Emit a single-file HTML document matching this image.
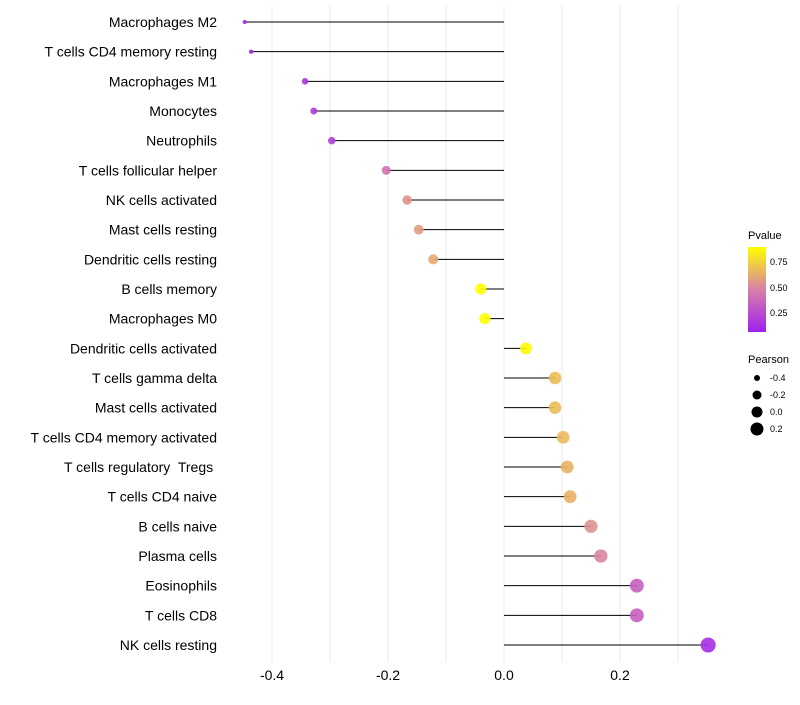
<!DOCTYPE html>
<html><head><meta charset="utf-8"><style>
body{margin:0;background:#fff;font-family:"Liberation Sans",sans-serif}
</style></head><body>
<svg id="chart" width="800" height="700" xmlns="http://www.w3.org/2000/svg">
<defs><linearGradient id="pg" x1="0" y1="1" x2="0" y2="0">
<stop offset="0" stop-color="#a020f0"/><stop offset="0.5" stop-color="#d880a8"/><stop offset="1" stop-color="#ffff00"/>
</linearGradient></defs>
<g id="grid"></g><g id="marks"></g><g id="ylab"></g><g id="xlab"></g>
<g>
<text x="748" y="239" font-size="11">Pvalue</text>
<rect x="748" y="247" width="18" height="85" fill="url(#pg)"/>
<text x="770" y="265" font-size="9">0.75</text>
<text x="770" y="291" font-size="9">0.50</text>
<text x="770" y="316" font-size="9">0.25</text>
</g>
<g>
<text x="748" y="363" font-size="11">Pearson</text>
<circle cx="757" cy="378" r="3"/><text x="770" y="381" font-size="9">-0.4</text>
<circle cx="757" cy="395" r="4.5"/><text x="770" y="398" font-size="9">-0.2</text>
<circle cx="757" cy="412" r="5.5"/><text x="770" y="415" font-size="9">0.0</text>
<circle cx="757" cy="429" r="6.5"/><text x="770" y="432" font-size="9">0.2</text>
</g>
</svg>
<script>
const categories=["Macrophages M2","T cells CD4 memory resting","Macrophages M1","Monocytes","Neutrophils","T cells follicular helper","NK cells activated","Mast cells resting","Dendritic cells resting","B cells memory","Macrophages M0","Dendritic cells activated","T cells gamma delta","Mast cells activated","T cells CD4 memory activated","T cells regulatory  Tregs\u00a0","T cells CD4 naive","B cells naive","Plasma cells","Eosinophils","T cells CD8","NK cells resting"];
const pearson=[-0.447,-0.436,-0.343,-0.328,-0.297,-0.203,-0.167,-0.147,-0.122,-0.040,-0.033,0.038,0.088,0.088,0.102,0.109,0.114,0.150,0.167,0.229,0.229,0.352];
const pvalue=[0.06,0.08,0.15,0.17,0.2,0.42,0.55,0.58,0.62,0.92,0.92,0.88,0.68,0.68,0.67,0.65,0.65,0.54,0.5,0.34,0.34,0.12];
const xTicks=[-0.4,-0.2,0.0,0.2];
const xTickLabels=["-0.4","-0.2","0.0","0.2"];
const NS="http://www.w3.org/2000/svg";
const xs=v=>504+v*580;
const ys=i=>22+i*(623/21);
const rs=v=>Math.sqrt(4+66*(v+0.45));
function lerp(a,b,t){return a.map((c,i)=>Math.round(c+(b[i]-c)*t));}
function col(p){const t=Math.max(0,Math.min(1,(p-0.06)/0.84));
const A=[160,32,240],M=[216,128,168],B=[255,255,0];
const c=t<0.5?lerp(A,M,t/0.5):lerp(M,B,(t-0.5)/0.5);return `rgb(${c})`;}
function mk(tag,attrs,parent){const e=document.createElementNS(NS,tag);for(const k in attrs)e.setAttribute(k,attrs[k]);parent.appendChild(e);return e;}
const grid=document.getElementById('grid'),marks=document.getElementById('marks'),yl=document.getElementById('ylab'),xl=document.getElementById('xlab');
for(let v=-0.4;v<=0.31;v+=0.1){const g=mk('line',{x1:xs(v),x2:xs(v),y1:5,y2:662,stroke:'#ebebeb','stroke-width':1},grid);

}
xTicks.forEach((v,i)=>{const t=mk('text',{x:xs(v),y:680,'text-anchor':'middle','font-size':14,fill:'#000'},xl);t.textContent=xTickLabels[i];

});
categories.forEach((c,i)=>{const y=ys(i);
const s=mk('line',{x1:xs(0),x2:xs(pearson[i]),y1:y,y2:y,stroke:'#000','stroke-width':1},marks);


const d=mk('circle',{cx:xs(pearson[i]),cy:y,r:rs(pearson[i]),fill:col(pvalue[i]),'fill-opacity':0.9},marks);


const t=mk('text',{x:217,y:y+5,'text-anchor':'end','font-size':14,fill:'#000','xml:space':'preserve'},yl);t.style.whiteSpace='pre';t.textContent=c;

});
</script>
</body></html>
